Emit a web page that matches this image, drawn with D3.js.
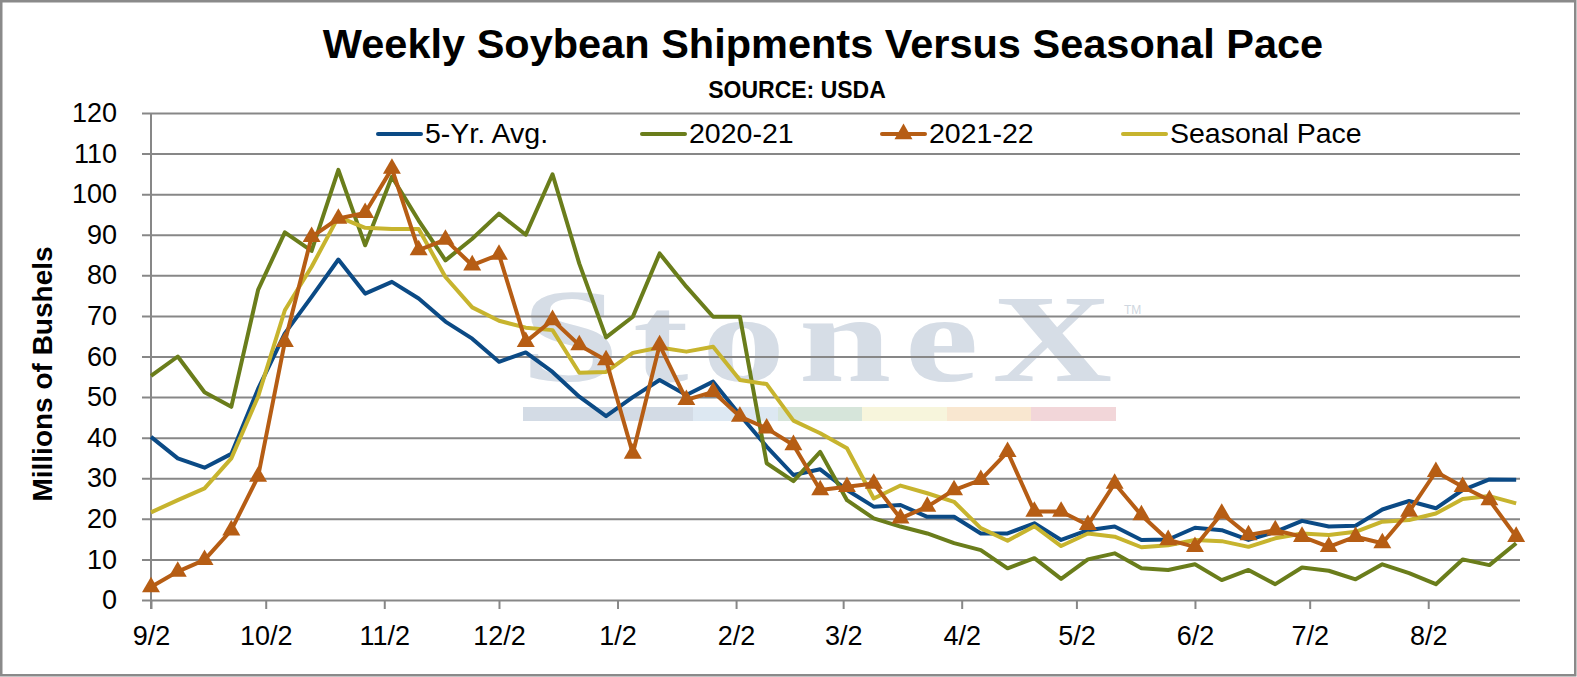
<!DOCTYPE html>
<html>
<head>
<meta charset="utf-8">
<script src="https://cdn.jsdelivr.net/npm/d3@7"></script>
<style>
  html, body { margin: 0; padding: 0; background: #fff; }
  svg { display: block; font-family: "Liberation Sans", Arial, sans-serif; }
</style>
</head>
<body>
<svg width="1577" height="677"></svg>
<script>
// weekly dates, first week of the marketing year
const startDate = "2021-09-02";
const weeks = 52;

const avg5 = [40.2, 34.9, 32.6, 36, 52, 65.7, 74.7, 83.9, 75.5, 78.4, 74.3, 68.6, 64.4, 58.7, 61, 56.2, 50.1, 45.3,
  50, 54.2, 50.5, 53.8, 45.6, 37.8, 30.8, 32.2, 27.1, 23, 23.4, 20.5, 20.5, 16.4, 16.4, 18.9, 14.8, 17.2,
  18.1, 14.8, 14.9, 17.8, 17.2, 14.8, 16.8, 19.5, 18.1, 18.3, 22.3, 24.4, 22.6, 27.1, 29.7, 29.6];

const y2020 = [55.2, 60, 51.2, 47.6, 76.4, 90.6, 86, 106, 87.4, 104.3, 93.5, 83.7, 89, 95.2, 90, 104.9, 82.9, 64.7,
  69.8, 85.4, 77.2, 69.8, 69.8, 33.7, 29.3, 36.5, 24.6, 20.1, 18.1, 16.4, 14, 12.3, 7.8, 10.3, 5.2, 10,
  11.5, 7.8, 7.4, 8.8, 4.9, 7.4, 3.9, 8, 7.2, 5.1, 8.8, 6.6, 3.9, 10, 8.6, 14];

const y2021 = [3.2, 7, 9.9, 17.2, 30.4, 63.6, 89.5, 94, 95.4, 106.3, 86.2, 88.8, 82.5, 85.1, 63.6, 69, 62.8, 59.1,
  36.1, 62.8, 49.3, 51.3, 45.2, 42.3, 38.2, 27.1, 27.9, 28.7, 20.1, 23, 27.1, 29.6, 36.5, 21.8, 21.8, 18.5,
  28.7, 20.9, 14.8, 13.1, 21.3, 16, 17.2, 15.6, 13.1, 15.6, 14, 21.8, 31.6, 27.9, 24.6, 15.6];

const seasonal = [21.6, 24.6, 27.5, 34.9, 50.1, 71.4, 82.1, 94.4, 91.7, 91.4, 91.4, 79.6, 72.1, 68.8, 67.1, 66.5, 56, 56.2,
  60.9, 62.2, 61.2, 62.4, 54.2, 53.2, 44.2, 41.1, 37.4, 25, 28.2, 26.3, 24.2, 17.7, 14.6, 18.2, 13.3, 16.4,
  15.6, 13, 13.5, 14.8, 14.5, 13.1, 15.2, 16.4, 16, 16.8, 19.3, 19.7, 21.3, 24.9, 25.6, 23.8];

const xTickDates = ["2021-09-02", "2021-10-02", "2021-11-02", "2021-12-02", "2022-01-02", "2022-02-02",
  "2022-03-02", "2022-04-02", "2022-05-02", "2022-06-02", "2022-07-02", "2022-08-02"];
const yTicks = [0, 10, 20, 30, 40, 50, 60, 70, 80, 90, 100, 110, 120];

const seriesNames = ["5-Yr. Avg.", "2020-21", "2021-22", "Seasonal Pace"];
const seriesColors = ["#0b4a85", "#6a7d1b", "#b65d14", "#c7b42e"];

const parse = d3.timeParse("%Y-%m-%d");
const t0 = parse(startDate);
const dates = d3.range(weeks).map(i => d3.timeDay.offset(t0, i * 7));

const svg = d3.select("svg");
const plotLeft = 151, plotRight = 1520, plotTop = 113, plotBottom = 600;

const x = d3.scaleTime()
  .domain([t0, d3.timeDay.offset(t0, 358)])
  .range([plotLeft, plotRight]);
const y = d3.scaleLinear().domain([0, 120]).range([plotBottom, plotTop]);

// border
svg.append("rect")
  .attr("x", 1.25).attr("y", 1.25)
  .attr("width", 1574).attr("height", 674)
  .attr("fill", "#fff")
  .attr("stroke", "#8a8a8a")
  .attr("stroke-width", 2.5);

// watermark
const wm = svg.append("g").attr("class", "watermark");
const wmText = wm.append("text")
  .attr("transform", "translate(521,381) scale(1.32,1)")
  .attr("font-family", "'Liberation Serif', 'DejaVu Serif', serif")
  .attr("font-weight", "bold")
  .attr("font-size", 126)
  .attr("fill", "#d6dde6")
  .attr("textLength", 448)
  .attr("lengthAdjust", "spacing");
wmText.append("tspan").attr("font-size", 134).text("S");
wmText.append("tspan").text("toneX");
wm.append("text")
  .attr("x", 1124).attr("y", 314)
  .attr("font-size", 12)
  .attr("fill", "#cfd7e0")
  .text("TM");
const stripes = [
  [523, 693, "#d3dbe5"], [693, 778, "#dde8f2"], [778, 862, "#d6e5da"],
  [862, 947, "#f7f5dc"], [947, 1031, "#f9e7d0"], [1031, 1116, "#f2d6d9"]
];
wm.selectAll("rect").data(stripes).enter().append("rect")
  .attr("x", d => d[0]).attr("y", 407)
  .attr("width", d => d[1] - d[0]).attr("height", 14)
  .attr("fill", d => d[2]);

// horizontal gridlines, extending as ticks left of the axis
const grid = svg.append("g")
  .attr("transform", `translate(${plotLeft - 9},0)`)
  .call(d3.axisLeft(y).tickValues(yTicks).tickSize(-(plotRight - plotLeft + 9)).tickFormat(""));
grid.select(".domain").remove();
grid.selectAll("line").attr("stroke", "#878787").attr("stroke-width", 2);

// y labels
const yAxis = svg.append("g")
  .attr("transform", `translate(${plotLeft - 9},0)`)
  .call(d3.axisLeft(y).tickValues(yTicks).tickSize(0).tickPadding(25));
yAxis.select(".domain").remove();
yAxis.selectAll("text")
  .attr("font-family", "'Liberation Sans', Arial, sans-serif")
  .attr("font-size", 27)
  .attr("fill", "#000");

// x axis
const fmt = d3.timeFormat("%-m/%-d");
const xAxis = svg.append("g")
  .attr("transform", `translate(0,${plotBottom})`)
  .call(d3.axisBottom(x).tickValues(xTickDates.map(parse)).tickFormat(fmt).tickSize(9).tickPadding(17));
xAxis.select(".domain").remove();
xAxis.selectAll("line").attr("stroke", "#878787").attr("stroke-width", 2);
xAxis.selectAll("text")
  .attr("font-family", "'Liberation Sans', Arial, sans-serif")
  .attr("font-size", 27)
  .attr("fill", "#000");

// left axis line
svg.append("line")
  .attr("x1", plotLeft).attr("x2", plotLeft)
  .attr("y1", y(120)).attr("y2", y(0) + 9)
  .attr("stroke", "#878787").attr("stroke-width", 2);

// series
const line = d3.line()
  .x((d, i) => x(dates[i]))
  .y(d => y(d));

const order = [0, 1, 3, 2];
const allSeries = [avg5, y2020, y2021, seasonal];
order.forEach(k => {
  svg.append("path")
    .datum(allSeries[k])
    .attr("fill", "none")
    .attr("stroke", seriesColors[k])
    .attr("stroke-width", 4)
    .attr("stroke-linejoin", "round")
    .attr("d", line);
});

const tri = d3.symbol().type(d3.symbolTriangle).size(140);
svg.append("g").selectAll("path")
  .data(y2021)
  .enter()
  .append("path")
  .attr("d", tri)
  .attr("transform", (d, i) => `translate(${x(dates[i])},${y(d)})`)
  .attr("fill", seriesColors[2]);

// legend
const legendX = [378, 642, 882, 1123];
const legend = svg.append("g");
seriesNames.forEach((name, i) => {
  const g = legend.append("g").attr("transform", `translate(${legendX[i]},134)`);
  g.append("line")
    .attr("x1", 0).attr("x2", 43)
    .attr("stroke", seriesColors[i])
    .attr("stroke-width", 4)
    .attr("stroke-linecap", "round");
  if (i === 2) {
    g.append("path").attr("d", tri).attr("transform", "translate(21.5,0)").attr("fill", seriesColors[i]);
  }
  g.append("text")
    .attr("x", 47).attr("y", 9)
    .attr("font-size", 28.5)
    .attr("fill", "#000")
    .text(name);
});

// titles
svg.append("text")
  .attr("x", 823).attr("y", 58)
  .attr("text-anchor", "middle")
  .attr("font-size", 41.5)
  .attr("font-weight", "bold")
  .text("Weekly Soybean Shipments Versus Seasonal Pace");

svg.append("text")
  .attr("x", 797).attr("y", 98)
  .attr("text-anchor", "middle")
  .attr("font-size", 23)
  .attr("font-weight", "bold")
  .text("SOURCE: USDA");

svg.append("text")
  .attr("transform", "translate(52,374) rotate(-90)")
  .attr("text-anchor", "middle")
  .attr("font-size", 28)
  .attr("font-weight", "bold")
  .text("Millions of Bushels");
</script>
</body>
</html>
